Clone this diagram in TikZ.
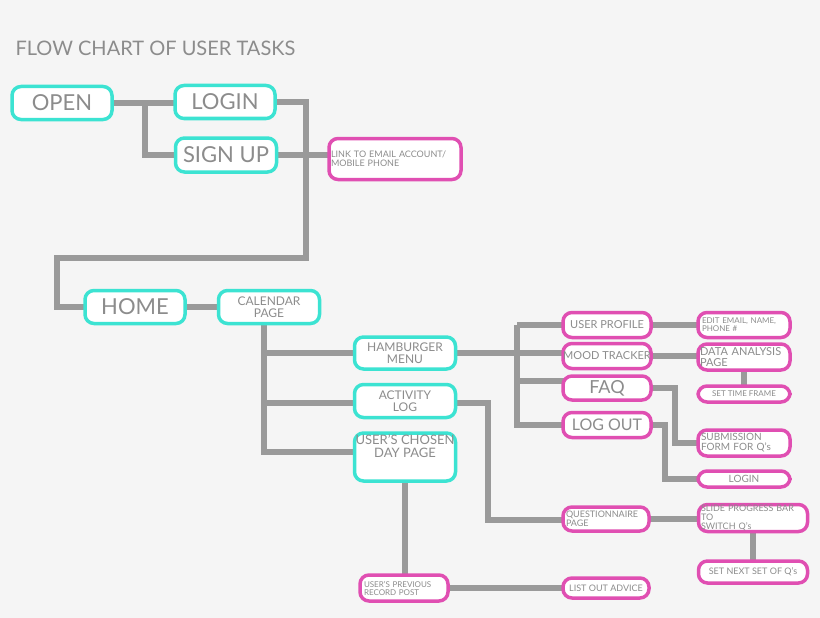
\documentclass[tikz,border=0pt]{standalone}
\usepackage{fontspec}
\setmainfont{Lato}
\begin{document}
\begin{tikzpicture}[x=1pt,y=-1pt,
  box/.style={draw, line width=3.5pt, rounded corners=9pt, fill=white, inner sep=0pt, align=center, text=txt, font=\fontsize{#1}{#1}\selectfont},
  cy/.style={box=#1, draw=cyanb},
  mg/.style={box=#1, draw=magb},
  ln/.style={draw=lin, line width=5.5pt}]
\definecolor{cyanb}{HTML}{3CE3D2}
\definecolor{magb}{HTML}{E04FB2}
\definecolor{txt}{HTML}{8C8C8C}
\definecolor{lin}{HTML}{9A9A9A}
\definecolor{bg}{HTML}{F5F5F5}
\fill[bg] (0,0) rectangle (820,618);
\useasboundingbox (0,0) rectangle (820,618);
\node[anchor=west, text=txt, font=\fontsize{20}{20}\selectfont] (title) at (12,48) {FLOW CHART OF USER TASKS};
% coordinates for connectors
\coordinate (c1) at (145,103); \coordinate (c2) at (145,155);
\coordinate (c3) at (306,102); \coordinate (c4) at (306,258);
\coordinate (c5) at (57,258); \coordinate (c6) at (57,307);
\coordinate (k1) at (264,353); \coordinate (k2) at (264,403); \coordinate (k3) at (264,452);
\coordinate (h0) at (517,325); \coordinate (h1) at (517,353); \coordinate (h2) at (517,381); \coordinate (h3) at (517,425);
\coordinate (a1) at (488,403); \coordinate (a2) at (488,520);
\coordinate (f1) at (675,388); \coordinate (f2) at (675,443);
\coordinate (g1) at (665,425); \coordinate (g2) at (665,479);
% connectors first (under boxes)
\path[ln] (113,103) -- (c1) -- (c2) -- (190,155);
\path[ln] (c1) -- (190,103);
\path[ln] (260,102) -- (c3) -- (c4) -- (c5) -- (c6) -- (100,307);
\path[ln] (260,155) -- (345,155);
\path[ln] (170,307) -- (235,307);
\path[ln] (264,310) -- (k3) -- (370,452);
\path[ln] (k1) -- (370,353); \path[ln] (k2) -- (370,403);
\path[ln] (440,353) -- (h1);
\path[ln] (h0) -- (h3) -- (580,425);
\path[ln] (h0) -- (580,325); \path[ln] (h1) -- (580,353); \path[ln] (h2) -- (580,381);
\path[ln] (440,403) -- (a1) -- (a2) -- (580,520);
\path[ln] (405,470) -- (405,585);
\path[ln] (430,588) -- (580,588);
\path[ln] (635,325) -- (715,325); \path[ln] (635,356) -- (715,356);
\path[ln] (744,360) -- (744,390);
\path[ln] (635,388) -- (f1) -- (f2) -- (715,443);
\path[ln] (635,425) -- (g1) -- (g2) -- (715,479);
\path[ln] (635,519) -- (715,519);
\path[ln] (753,525) -- (753,565);
% boxes
\node[cy=22, minimum width=100, minimum height=33] (open) at (62,103) {OPEN};
\node[cy=22, minimum width=100, minimum height=33] (login) at (225,102) {LOGIN};
\node[cy=22, minimum width=101, minimum height=34] (signup) at (226,155) {SIGN UP};
\node[mg=9, minimum width=132, minimum height=41, align=left, text width=128] (link) at (395,159) {LINK TO EMAIL ACCOUNT/\\MOBILE PHONE};
\node[cy=22, minimum width=100, minimum height=33] (home) at (135,307) {HOME};
\node[cy=12, minimum width=101, minimum height=33] (cal) at (269,307) {CALENDAR\\PAGE};
\node[cy=12, minimum width=101, minimum height=32] (ham) at (405,353) {HAMBURGER\\MENU};
\node[cy=12, minimum width=101, minimum height=33] (act) at (405,401) {ACTIVITY\\LOG};
\node[cy=13, minimum width=101, minimum height=48] (day) at (405,457) {USER'S CHOSEN\\DAY PAGE\\[8pt]};
\node[mg=11, minimum width=88, minimum height=25] (prof) at (607,325) {USER PROFILE};
\node[mg=11, minimum width=88, minimum height=25] (mood) at (607,356) {MOOD TRACKER};
\node[mg=18, minimum width=88, minimum height=24] (faq) at (607,388) {FAQ};
\node[mg=16, minimum width=88, minimum height=25] (logout) at (607,425) {LOG OUT};
\node[mg=8, minimum width=92, minimum height=25, align=left, text width=84] (edit) at (744,325) {EDIT EMAIL, NAME,\\PHONE \#};
\node[mg=11, minimum width=92, minimum height=26, align=left, text width=88] (data) at (744,357) {DATA ANALYSIS\\PAGE};
\node[mg=8, minimum width=92, minimum height=16] (time) at (744,394) {SET TIME FRAME};
\node[mg=10, minimum width=92, minimum height=26, align=left, text width=86] (sub) at (744,443) {SUBMISSION\\FORM FOR Q's};
\node[mg=10, minimum width=92, minimum height=16] (login2) at (744,479) {LOGIN};
\node[mg=9, minimum width=86, minimum height=24, align=left, text width=80] (quest) at (606,519) {QUESTIONNAIRE\\PAGE};
\node[mg=9, minimum width=109, minimum height=27, align=left, text width=104] (slide) at (753,518) {SLIDE PROGRESS BAR TO\\SWITCH Q's};
\node[mg=9, minimum width=109, minimum height=22] (next) at (753,572) {SET NEXT SET OF Q's};
\node[mg=8, minimum width=88, minimum height=26, align=left, text width=80] (rec) at (404,588) {USER'S PREVIOUS\\RECORD POST};
\node[mg=9, minimum width=86, minimum height=20] (advice) at (606,588) {LIST OUT ADVICE};
\end{tikzpicture}
\end{document}
